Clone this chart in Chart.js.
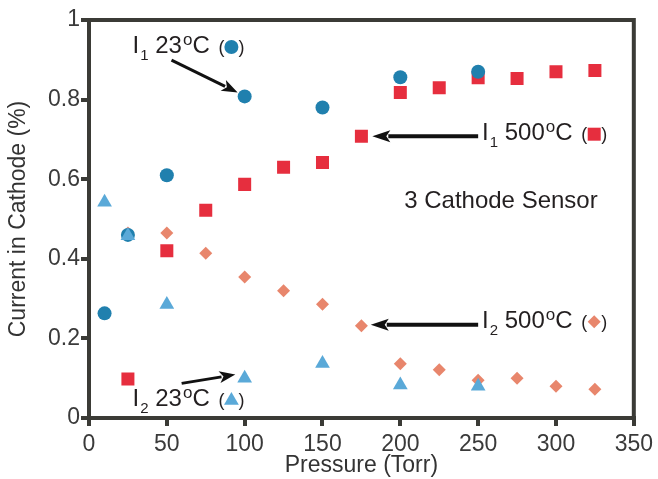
<!DOCTYPE html>
<html>
<head>
<meta charset="utf-8">
<script src="https://cdn.jsdelivr.net/npm/chart.js@4/dist/chart.umd.min.js"></script>
<style>
html, body { margin: 0; padding: 0; background: #fff; }
#wrap { width: 658px; height: 479px; }
</style>
</head>
<body>
<div id="wrap"><canvas id="grafico"></canvas></div>
<script>
// dados
const xI1_23 = [10, 25, 50, 100, 150, 200, 250];
const yI1_23 = [0.263, 0.46, 0.61, 0.808, 0.78, 0.856, 0.87];

const xI2_23 = [10, 25, 50, 100, 150, 200, 250];
const yI2_23 = [0.542, 0.458, 0.285, 0.1, 0.137, 0.083, 0.08];

const xI1_500 = [25, 50, 75, 100, 125, 150, 175, 200, 225, 250, 275, 300, 325];
const yI1_500 = [0.098, 0.42, 0.522, 0.587, 0.63, 0.642, 0.708, 0.818, 0.83, 0.855, 0.853, 0.87, 0.873];

const xI2_500 = [25, 50, 75, 100, 125, 150, 175, 200, 225, 250, 275, 300, 325];
const yI2_500 = [0.465, 0.465, 0.414, 0.354, 0.32, 0.286, 0.232, 0.136, 0.121, 0.095, 0.1, 0.08, 0.072];

const xTicks = [0, 50, 100, 150, 200, 250, 300, 350];
const yTicks = [0, 0.2, 0.4, 0.6, 0.8, 1];
const yTickLabels = ['0', '0.2', '0.4', '0.6', '0.8', '1'];

const corEixo = '#3b3b36';
const corTexto = '#231f20';
const cores = { c23: '#2080ae', q500: '#e62e3e', t23: '#5aa9d8', d500: '#e8866c' };

function pares(xs, ys) { return xs.map((x, i) => ({ x: x, y: ys[i] })); }

// rotulos com sub/sobrescrito, posicionados em unidades dos eixos
const rotulos = [
    { x: 28, y: 0.917, sub: '1', texto: ' 23', marca: 'circle', cor: cores.c23 },
    { x: 252.5, y: 0.698, sub: '1', texto: ' 500', marca: 'rect', cor: cores.q500 },
    { x: 252.5, y: 0.227, sub: '2', texto: ' 500', marca: 'rectRot', cor: cores.d500 },
    { x: 28, y: 0.029, sub: '2', texto: ' 23', marca: 'triangle', cor: cores.t23 }
];
const setas = [
    { de: [53, 0.899], para: [95.5, 0.818], lw: 3, cab: 16, meia: 6 },
    { de: [250, 0.708], para: [182, 0.708], lw: 4, cab: 18, meia: 6 },
    { de: [250, 0.234], para: [181, 0.234], lw: 4, cab: 18, meia: 6 },
    { de: [59.5, 0.087], para: [94, 0.109], lw: 3, cab: 16, meia: 6 }
];

function marcador(ctx, tipo, x, y, cor) {
    ctx.fillStyle = cor;
    ctx.beginPath();
    if (tipo === 'circle') ctx.arc(x, y, 7, 0, Math.PI * 2);
    if (tipo === 'rect') ctx.rect(x - 6.5, y - 6.5, 13, 13);
    if (tipo === 'rectRot') { ctx.moveTo(x, y - 6.5); ctx.lineTo(x + 6.5, y); ctx.lineTo(x, y + 6.5); ctx.lineTo(x - 6.5, y); }
    if (tipo === 'triangle') { ctx.moveTo(x, y - 8.5); ctx.lineTo(x + 7.4, y + 4.3); ctx.lineTo(x - 7.4, y + 4.3); }
    ctx.closePath();
    ctx.fill();
}

const pluginNotas = {
    id: 'notas',
    afterDatasetsDraw(chart) {
        const ctx = chart.ctx;
        const sx = chart.scales.x, sy = chart.scales.y;
        const a = chart.chartArea;
        ctx.save();
        // moldura superior e direita
        ctx.strokeStyle = corEixo;
        ctx.lineWidth = 4;
        ctx.beginPath();
        ctx.moveTo(a.left - 2, a.top);
        ctx.lineTo(a.right, a.top);
        ctx.lineTo(a.right, a.bottom + 2);
        ctx.stroke();

        ctx.fillStyle = corTexto;
        ctx.textBaseline = 'alphabetic';
        const grande = '24px "Liberation Sans", Arial, sans-serif';
        const pequeno = '15px "Liberation Sans", Arial, sans-serif';
        const sobre = '17px "Liberation Sans", Arial, sans-serif';
        const paren = '18px "Liberation Sans", Arial, sans-serif';
        rotulos.forEach(r => {
            let px = sx.getPixelForValue(r.x), py = sy.getPixelForValue(r.y);
            ctx.fillStyle = corTexto;
            ctx.font = grande; ctx.fillText('I', px, py); px += ctx.measureText('I').width + 1;
            ctx.font = pequeno; ctx.fillText(r.sub, px, py + 7); px += ctx.measureText(r.sub).width;
            ctx.font = grande; ctx.fillText(r.texto, px, py); px += ctx.measureText(r.texto).width + 1;
            ctx.font = sobre; ctx.fillText('o', px, py - 8); px += ctx.measureText('o').width;
            ctx.font = grande; ctx.fillText('C ', px, py); px += ctx.measureText('C ').width + 2;
            ctx.font = paren; ctx.fillText('(', px, py); px += ctx.measureText('(').width + 7;
            marcador(ctx, r.marca, px, py - 6, r.cor);
            ctx.fillStyle = corTexto;
            ctx.font = paren; ctx.fillText(')', px + 7, py);
        });

        ctx.font = grande;
        ctx.fillText('3 Cathode Sensor', sx.getPixelForValue(202.5), sy.getPixelForValue(0.528));

        setas.forEach(s => {
            const x1 = sx.getPixelForValue(s.de[0]), y1 = sy.getPixelForValue(s.de[1]);
            const x2 = sx.getPixelForValue(s.para[0]), y2 = sy.getPixelForValue(s.para[1]);
            const ang = Math.atan2(y2 - y1, x2 - x1);
            const bx = x2 - Math.cos(ang) * s.cab, by = y2 - Math.sin(ang) * s.cab;
            ctx.strokeStyle = '#111';
            ctx.lineWidth = s.lw;
            ctx.beginPath(); ctx.moveTo(x1, y1); ctx.lineTo(bx + Math.cos(ang) * 2, by + Math.sin(ang) * 2); ctx.stroke();
            ctx.fillStyle = '#111';
            ctx.beginPath();
            ctx.moveTo(x2, y2);
            ctx.lineTo(bx - Math.sin(ang) * s.meia, by + Math.cos(ang) * s.meia);
            ctx.lineTo(bx + Math.cos(ang) * 4, by + Math.sin(ang) * 4);
            ctx.lineTo(bx + Math.sin(ang) * s.meia, by - Math.cos(ang) * s.meia);
            ctx.closePath();
            ctx.fill();
        });
        ctx.restore();
    }
};

const fonteTick = { family: '"Liberation Sans", Arial, sans-serif', size: 23 };
const fonteTitulo = { family: '"Liberation Sans", Arial, sans-serif', size: 23 };

new Chart(document.getElementById('grafico'), {
    type: 'scatter',
    data: {
        datasets: [
            { label: 'I2 23C', data: pares(xI2_23, yI2_23), pointStyle: 'triangle', pointRadius: 8.5, backgroundColor: cores.t23, borderWidth: 0, order: 1 },
            { label: 'I1 23C', data: pares(xI1_23, yI1_23), pointStyle: 'circle', pointRadius: 7, backgroundColor: cores.c23, borderWidth: 0, order: 2 },
            { label: 'I2 500C', data: pares(xI2_500, yI2_500), pointStyle: 'rectRot', pointRadius: 6.5, backgroundColor: cores.d500, borderWidth: 0, order: 3 },
            { label: 'I1 500C', data: pares(xI1_500, yI1_500), pointStyle: 'rect', pointRadius: 9.2, backgroundColor: cores.q500, borderWidth: 0, order: 4 }
        ]
    },
    options: {
        responsive: true,
        maintainAspectRatio: false,
        animation: false,
        layout: { padding: { top: 20, right: 23, left: 0, bottom: 0 } },
        plugins: { legend: { display: false }, tooltip: { enabled: false } },
        scales: {
            x: {
                type: 'linear', min: 0, max: 350,
                afterBuildTicks: s => { s.ticks = xTicks.map(v => ({ value: v })); },
                afterFit: s => { s.height = 61; },
                border: { color: corEixo, width: 4 },
                grid: { drawOnChartArea: false, color: corEixo, lineWidth: 4, tickLength: 8 },
                ticks: { color: '#3a3a3a', font: fonteTick, padding: 5, maxRotation: 0 },
                title: { display: true, text: 'Pressure (Torr)', color: '#333', font: fonteTitulo, padding: { top: 0, bottom: 0 } }
            },
            y: {
                type: 'linear', min: 0, max: 1,
                afterBuildTicks: s => { s.ticks = yTicks.map(v => ({ value: v })); },
                afterFit: s => { s.width = 89; },
                border: { color: corEixo, width: 4 },
                grid: { drawOnChartArea: false, color: corEixo, lineWidth: 4, tickLength: 8 },
                ticks: { color: '#3a3a3a', font: fonteTick, padding: 1, callback: (v, i) => yTickLabels[i] },
                title: { display: true, text: 'Current in Cathode (%)', color: '#333', font: fonteTitulo, padding: { top: 5, bottom: 0 } }
            }
        }
    },
    plugins: [pluginNotas]
});
</script>
</body>
</html>
